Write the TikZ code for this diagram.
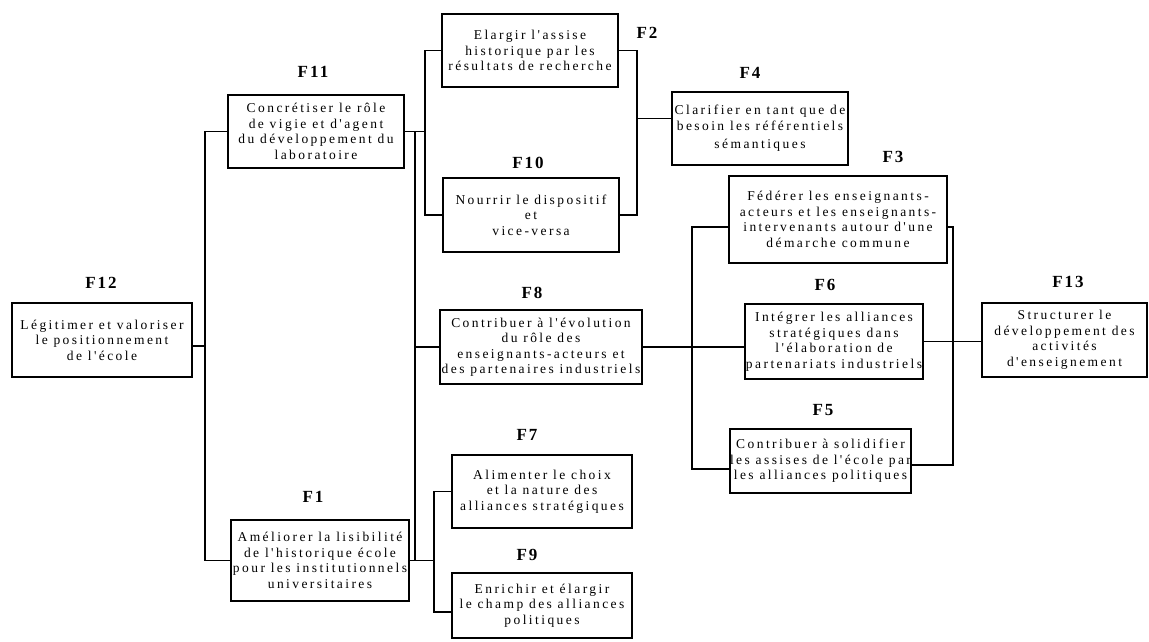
\documentclass[tikz,border=0pt]{standalone}
\usepackage{fontspec}
\setmainfont{Liberation Serif}
\newfontfamily\boxfont[LetterSpace=18]{Liberation Serif}
\newfontfamily\labfont[LetterSpace=12]{Liberation Serif}
\begin{document}
\begin{tikzpicture}[x=1pt,y=-1pt,
  box/.style={draw, line width=1.4pt, align=center, inner sep=0pt,
    font=\boxfont\fontsize{13.5}{15.5}\selectfont},
  lab/.style={font=\labfont\bfseries\fontsize{17}{19}\selectfont},
  conn/.style={line width=1.4pt}]
\useasboundingbox (0,0) rectangle (1149,642);

% boxes
\node[box, minimum width=180pt, minimum height=74pt] (F12) at (102,340)
  {Légitimer et valoriser\\le positionnement\\de l'école};
\node[box, minimum width=176pt, minimum height=73pt] (F11) at (316,131.5)
  {Concrétiser le rôle\\de vigie et d'agent\\du développement du\\laboratoire};
\node[box, minimum width=176pt, minimum height=73pt] (F2) at (530,50.5)
  {Elargir l'assise\\historique par les\\résultats de recherche};
\node[box, minimum width=176pt, minimum height=74pt] (F10) at (531,215)
  {Nourrir le dispositif\\et\\vice-versa};
\node[box, minimum width=176pt, minimum height=73pt] (F4) at (760,128.5)
  {Clarifier en tant que de\\besoin les référentiels\\[3pt]sémantiques};
\node[box, minimum width=218pt, minimum height=87pt] (F3) at (838,219.5)
  {Fédérer les enseignants-\\acteurs et les enseignants-\\intervenants autour d'une\\démarche commune};
\node[box, minimum width=202pt, minimum height=74pt] (F8) at (541,347)
  {Contribuer à l'évolution\\du rôle des\\enseignants-acteurs et\\des partenaires industriels};
\node[box, minimum width=178pt, minimum height=75pt] (F6) at (834,341.5)
  {Intégrer les alliances\\stratégiques dans\\l'élaboration de\\partenariats industriels};
\node[box, minimum width=179pt, minimum height=64pt] (F5) at (820.5,461)
  {Contribuer à solidifier\\les assises de l'école par\\les alliances politiques};
\node[box, minimum width=165pt, minimum height=74pt] (F13) at (1064.5,340)
  {Structurer le\\développement des\\activités\\d'enseignement};
\node[box, minimum width=178pt, minimum height=81pt] (F1) at (320,560.5)
  {Améliorer la lisibilité\\de l'historique école\\pour les institutionnels\\universitaires};
\node[box, minimum width=180pt, minimum height=73pt] (F7) at (542,491.5)
  {Alimenter le choix\\et la nature des\\alliances stratégiques};
\node[box, minimum width=180pt, minimum height=65pt] (F9) at (542,605.5)
  {Enrichir et élargir\\le champ des alliances\\politiques};

% labels
\node[lab] (lF12) at (101,283) {F12};
\node[lab] (lF11) at (313,72) {F11};
\node[lab] (lF2) at (647,33) {F2};
\node[lab] (lF10) at (528,163) {F10};
\node[lab] (lF4) at (750,73) {F4};
\node[lab] (lF3) at (893,157) {F3};
\node[lab] (lF8) at (532,293) {F8};
\node[lab] (lF6) at (825,285) {F6};
\node[lab] (lF5) at (823,410) {F5};
\node[lab] (lF13) at (1068,282) {F13};
\node[lab] (lF1) at (313,497) {F1};
\node[lab] (lF7) at (527,435) {F7};
\node[lab] (lF9) at (527,555) {F9};

% bus coordinates
\coordinate (a2) at (205,560.5);
\coordinate (b2) at (415,560.5);
\coordinate (c2) at (425,215);
\coordinate (d2) at (637,215);
\coordinate (e2) at (434,612);
\coordinate (f2) at (692,469);
\coordinate (g2) at (953,465);
\coordinate (p12) at ([yshift=-6pt]F12.east);
\coordinate (p4) at ([yshift=10pt]F4.west);
\coordinate (p9) at ([yshift=-6.5pt]F9.west);
\coordinate (p3w) at ([yshift=-7.5pt]F3.west);
\coordinate (p3e) at ([yshift=-7.5pt]F3.east);
\coordinate (p5w) at ([yshift=-8pt]F5.west);
\coordinate (p5e) at ([yshift=-4pt]F5.east);

% connectors
\draw[conn] (p12) -- (p12 -| a2);
\draw[conn] (F11.west) -| (a2) -- (F1.west);
\draw[conn] (F11.east) -- (F11.east -| c2);
\draw[conn] (F11.east -| b2) -- (b2) -- (F1.east);
\draw[conn] (F8.west) -- (F8.west -| b2);
\draw[conn] (F2.west) -| (c2) -- (F10.west);
\draw[conn] (F2.east) -| (d2) -- (F10.east);
\draw[conn] (p4) -- (p4 -| d2);
\draw[conn] (F1.east) -- (F1.east -| e2);
\draw[conn] (F7.west) -| (e2) -- (p9);
\draw[conn] (F8.east) -- (F8.east -| F6.west);
\draw[conn] (p3w) -| (f2) -- (p5w);
\draw[conn] (p3e) -| (g2) -- (p5e);
\draw[conn] (F6.east) -- (F6.east -| F13.west);
\end{tikzpicture}
\end{document}
